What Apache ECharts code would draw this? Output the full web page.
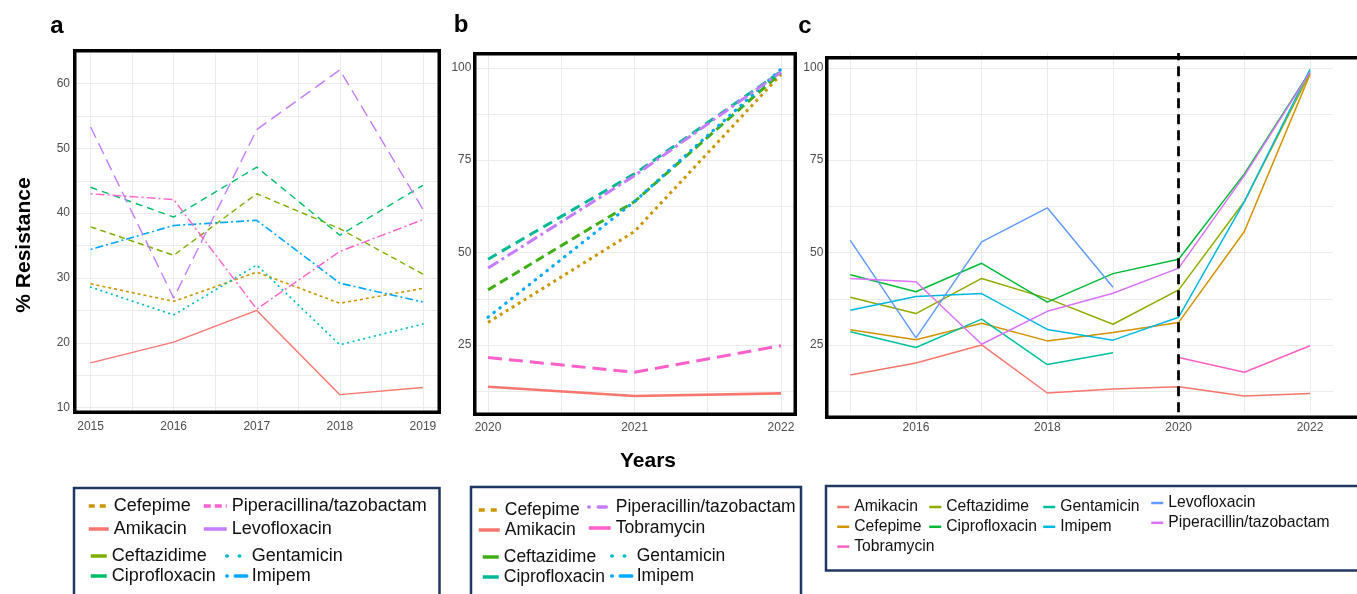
<!DOCTYPE html>
<html>
<head>
<meta charset="utf-8">
<script src="https://cdn.jsdelivr.net/npm/echarts@6/dist/echarts.min.js"></script>
<style>
html, body { margin: 0; padding: 0; background: #fff; }
#main { width: 1357px; height: 594px; }
</style>
</head>
<body>
<div id="main"></div>
<script>
// years
var yearsA = [2015, 2016, 2017, 2018, 2019];
var yearsB = [2020, 2021, 2022];
var yearsC = yearsA.concat(yearsB);

// % resistance 2015-2019 (panel a)
var amikacinA      = [16.9, 20.1, 25.0, 12.0, 13.1];
var cefepimeA      = [29.1, 26.4, 30.9, 26.1, 28.4];
var ceftazidimeA   = [37.9, 33.5, 43.0, 37.6, 30.6];
var ciprofloxacinA = [44.0, 39.4, 47.1, 36.6, 44.3];
var gentamicinA    = [28.6, 24.3, 32.0, 19.7, 22.9];
var imipemA        = [34.4, 38.1, 38.9, 29.2, 26.3];
var levofloxacinA  = [53.3, 26.9, 52.9, 62.1, 40.6];
var piperacillinA  = [43.0, 42.1, 25.2, 34.1, 39.0];

// % resistance 2020-2022 (panel b)
var amikacinB      = [13.7, 11.2, 11.9];
var cefepimeB      = [31.1, 55.7, 98.2];
var ceftazidimeB   = [39.9, 63.8, 98.6];
var ciprofloxacinB = [48.2, 71.3, 99.0];
var imipemB        = [32.5, 63.8, 99.6];
var piperacillinB  = [45.8, 70.8, 98.8];
var tobramycinB    = [21.6, 17.6, 24.8];

// tick labels and grid lines
var labelsAx = [2015, 2016, 2017, 2018, 2019];
var gridAx   = [2015, 2015.5, 2016, 2016.5, 2017, 2017.5, 2018, 2018.5, 2019];
var labelsAy = [10, 20, 30, 40, 50, 60];
var gridAy   = [10, 15, 20, 25, 30, 35, 40, 45, 50, 55, 60];
var labelsBx = [2020, 2021, 2022];
var gridBx   = [2020, 2020.5, 2021, 2021.5, 2022];
var labelsBy = [25, 50, 75, 100];
var gridBy   = [12.5, 25, 37.5, 50, 62.5, 75, 87.5, 100];
var labelsCx = [2016, 2018, 2020, 2022];
var gridCx   = [2015, 2016, 2017, 2018, 2019, 2020, 2021, 2022];

var FONT = '"Liberation Sans", Arial, sans-serif';

function pairs(xs, ys) {
	return xs.map(function (x, i) { return [x, ys[i]]; });
}

// ggplot style 5% expansion of the data range
function expMin(v) { return v.min - (v.max - v.min) * 0.05; }
function expMax(v) { return v.max + (v.max - v.min) * 0.05; }

function axis(idx, labels, lines, margin) {
	return {
		type: 'value', gridIndex: idx, min: expMin, max: expMax,
		axisLine: { show: false },
		axisTick: { show: false, customValues: lines },
		axisLabel: {
			customValues: labels, margin: margin, color: '#4d4d4d', fontSize: 12, fontFamily: FONT,
			formatter: function (v) { return String(Math.round(v)); }
		},
		splitLine: { show: true, lineStyle: { color: '#ebebeb', width: 1 } }
	};
}

function line(name, idx, xs, ys, color, width, dash, cap) {
	return {
		name: name, type: 'line', xAxisIndex: idx, yAxisIndex: idx,
		data: pairs(xs, ys), symbol: 'none', silent: true,
		itemStyle: { color: color },
		lineStyle: { color: color, width: width, type: dash || 'solid', cap: cap || 'butt' }
	};
}

var seriesA = [
	line('Amikacin|a', 0, yearsA, amikacinA, '#F8766D', 1.4),
	line('Cefepime|a', 0, yearsA, cefepimeA, '#CD9600', 1.6, [3, 3]),
	line('Ceftazidime|a', 0, yearsA, ceftazidimeA, '#7CAE00', 1.4, [6, 4]),
	line('Ciprofloxacin|a', 0, yearsA, ciprofloxacinA, '#00BE67', 1.4, [7, 5]),
	line('Gentamicin|a', 0, yearsA, gentamicinA, '#00BFC4', 1.8, [0.5, 5], 'round'),
	line('Imipem|a', 0, yearsA, imipemA, '#00A9FF', 1.6, [2, 3, 8, 3]),
	line('Levofloxacin|a', 0, yearsA, levofloxacinA, '#C77CFF', 1.4, [12, 6]),
	line('Piperacillina/tazobactam|a', 0, yearsA, piperacillinA, '#FF61CC', 1.4, [2, 3, 9, 3])
];

var seriesB = [
	line('Amikacin|b', 1, yearsB, amikacinB, '#F8766D', 2.6),
	line('Cefepime|b', 1, yearsB, cefepimeB, '#CD9600', 3, [3, 4]),
	line('Ceftazidime|b', 1, yearsB, ceftazidimeB, '#3FAF16', 3, [9, 5]),
	line('Ciprofloxacin|b', 1, yearsB, ciprofloxacinB, '#00B894', 3, [10, 6]),
	line('Gentamicin|b', 1, [], [], '#00BFC4', 3, [0.5, 6], 'round'),
	line('Imipem|b', 1, yearsB, imipemB, '#00A9FF', 3.2, [0.5, 7], 'round'),
	line('Piperacillin/tazobactam|b', 1, yearsB, piperacillinB, '#C77CFF', 3, [12, 4, 3, 4]),
	line('Tobramycin|b', 1, yearsB, tobramycinB, '#FF61CC', 3, [14, 7])
];

var seriesC = [
	line('Amikacin|c', 2, yearsC, amikacinA.concat(amikacinB), '#F8766D', 1.5),
	line('Cefepime|c', 2, yearsC, cefepimeA.concat(cefepimeB), '#D39200', 1.5),
	line('Ceftazidime|c', 2, yearsC, ceftazidimeA.concat(ceftazidimeB), '#93AA00', 1.5),
	line('Ciprofloxacin|c', 2, yearsC, ciprofloxacinA.concat(ciprofloxacinB), '#00BA38', 1.5),
	line('Gentamicin|c', 2, yearsA, gentamicinA, '#00C19F', 1.5),
	line('Imipem|c', 2, yearsC, imipemA.concat(imipemB), '#00B9E3', 1.5),
	line('Levofloxacin|c', 2, yearsA, levofloxacinA, '#619CFF', 1.5),
	line('Piperacillin/tazobactam|c', 2, yearsC, piperacillinA.concat(piperacillinB), '#DB72FB', 1.5),
	line('Tobramycin|c', 2, yearsB, tobramycinB, '#FF61C3', 1.5)
];
// dashed divider at 2020
seriesC[0].markLine = {
	symbol: 'none', silent: true, label: { show: false },
	lineStyle: { color: '#000', width: 2.8, type: [10, 6] },
	data: [{ xAxis: 2020 }]
};

function legendBlock(items, left, top, gap, itemWidth, fontSize, lineWidth) {
	return {
		data: items, left: left, top: top, orient: 'vertical',
		itemGap: gap, itemWidth: itemWidth, itemHeight: 12, padding: 0,
		selectedMode: false,
		// hide the circle that line legends draw by default
		itemStyle: { color: 'rgba(0,0,0,0)', borderColor: 'rgba(0,0,0,0)', borderWidth: 0, opacity: 0 },
		lineStyle: { width: lineWidth },
		textStyle: { fontSize: fontSize, color: '#111', fontFamily: FONT },
		formatter: function (n) { return n.split('|')[0]; }
	};
}

var solid = { type: 'solid' };
var legends = [
	// panel a
	legendBlock([{ name: 'Cefepime|a', lineStyle: { type: [6, 5] } }, { name: 'Amikacin|a', lineStyle: solid }], 87, 497, 5, 20, 18, 3.5),
	legendBlock([{ name: 'Piperacillina/tazobactam|a', lineStyle: { type: [7, 4] } }, { name: 'Levofloxacin|a', lineStyle: solid }], 202, 497, 5, 23, 18, 3.5),
	legendBlock([{ name: 'Ceftazidime|a', lineStyle: solid }, { name: 'Ciprofloxacin|a', lineStyle: solid }], 89, 547, 2, 16, 18, 3.5),
	legendBlock([{ name: 'Gentamicin|a', lineStyle: { type: [0.5, 12], cap: 'round' } }, { name: 'Imipem|a', lineStyle: { type: [0.5, 8, 12, 20], cap: 'round' } }], 225, 547, 2, 20, 18, 3.5),
	// panel b
	legendBlock([{ name: 'Cefepime|b', lineStyle: { type: [6, 6] } }, { name: 'Amikacin|b', lineStyle: solid }], 477, 501, 2, 21, 17.5, 3.5),
	legendBlock([{ name: 'Piperacillin/tazobactam|b', lineStyle: { type: [0.5, 9, 8, 20], cap: 'round' } }, { name: 'Tobramycin|b', lineStyle: solid }], 587, 498, 3, 22, 17.5, 3.5),
	legendBlock([{ name: 'Ceftazidime|b', lineStyle: solid }, { name: 'Ciprofloxacin|b', lineStyle: solid }], 481, 548, 2, 16, 17.5, 3.5),
	legendBlock([{ name: 'Gentamicin|b', lineStyle: { type: [0.5, 12], cap: 'round' } }, { name: 'Imipem|b', lineStyle: { type: [0.5, 8, 12, 20], cap: 'round' } }], 610, 547, 2, 20, 17.5, 3.5),
	// panel c
	legendBlock(['Amikacin|c', 'Cefepime|c', 'Tobramycin|c'], 836, 499, 3.8, 12, 15.7, 2.5),
	legendBlock(['Ceftazidime|c', 'Ciprofloxacin|c'], 928, 499, 3.8, 12, 15.7, 2.5),
	legendBlock(['Gentamicin|c', 'Imipem|c'], 1042, 499, 3.8, 12, 15.7, 2.5),
	legendBlock(['Levofloxacin|c', 'Piperacillin/tazobactam|c'], 1150, 495, 3.8, 12, 15.7, 2.5)
];

function frame(x, y, w, h, color, lw) {
	return {
		type: 'rect', z: 100, silent: true,
		shape: { x: x, y: y, width: w, height: h },
		style: { fill: null, stroke: color, lineWidth: lw }
	};
}

function label(text, x, y, size, rot) {
	return {
		type: 'text', z: 100, silent: true, x: x, y: y, rotation: rot || 0,
		style: { text: text, font: 'bold ' + size + 'px ' + FONT, fill: '#000', align: 'center', verticalAlign: 'middle' }
	};
}

var myChart = echarts.init(document.getElementById('main'), null, { renderer: 'canvas' });
var option = {
	animation: false,
	backgroundColor: '#fff',
	grid: [
		{ left: 74, top: 53.7, width: 365.5, height: 357.2, outerBoundsMode: 'none' },
		{ left: 473.4, top: 52.9, width: 322.2, height: 359.4, outerBoundsMode: 'none' },
		{ left: 827.3, top: 52.9, width: 505.7, height: 359.4, outerBoundsMode: 'none' }
	],
	xAxis: [
		axis(0, labelsAx, gridAx, 10),
		axis(1, labelsBx, gridBx, 9),
		axis(2, labelsCx, gridCx, 9)
	],
	yAxis: [
		axis(0, labelsAy, gridAy, 4),
		axis(1, labelsBy, gridBy, 2),
		axis(2, labelsBy, gridBy, 4)
	],
	legend: legends,
	series: seriesA.concat(seriesB, seriesC),
	graphic: {
		elements: [
			frame(74.75, 50.75, 364.5, 361.5, '#000', 3.5),
			frame(474.75, 53.75, 320.5, 360.5, '#000', 3.5),
			frame(826.75, 57.75, 600, 359.5, '#000', 3.5),
			frame(74, 488, 365.5, 130, '#1f3864', 2.5),
			frame(471, 487, 330, 130, '#1f3864', 2.5),
			frame(826, 486, 600, 84.5, '#1f3864', 2.5),
			label('a', 57, 26, 24),
			label('b', 461, 25, 24),
			label('c', 805, 26, 24),
			label('% Resistance', 24, 245, 21, Math.PI / 2),
			label('Years', 648, 461, 21)
		]
	}
};
myChart.setOption(option);
</script>
</body>
</html>
